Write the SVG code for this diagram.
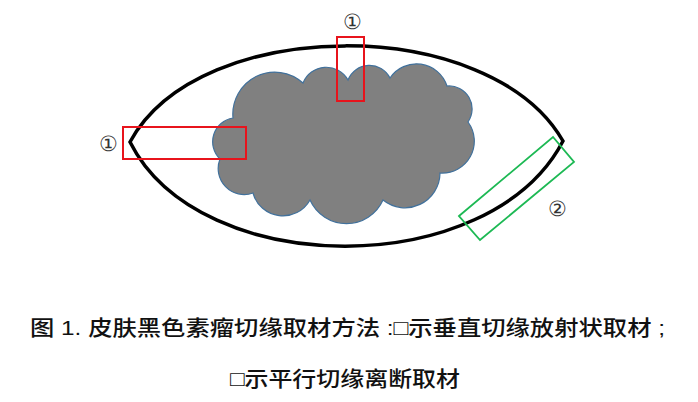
<svg xmlns="http://www.w3.org/2000/svg" width="698" height="402" viewBox="0 0 698 402">
<style>
.lbl{font-family:"Liberation Serif","DejaVu Serif",serif;font-size:21px;fill:#333;text-anchor:middle}
.cap{font-family:"Liberation Sans","Noto Sans CJK SC",sans-serif;font-size:21px;font-weight:500;fill:#111}
.red{fill:none;stroke:#e8141c;stroke-width:2}
</style>
<rect width="698" height="402" fill="#fff"/>
<g id="lens"><path d="M130,142 C200,14 490,14 563,141 C490,281 200,281 130,142 Z" fill="none" stroke="#000" stroke-width="3.5"/></g>
<g id="tumor"><path d="M233,118 A24,24 0 0 0 220,159 A26,26 0 0 0 253,193 A31,31 0 0 0 310,200 A40,40 0 0 0 383,200 A35,35 0 0 0 440,173 A32,32 0 0 0 468,122 A23,23 0 0 0 447,86 A32,32 0 0 0 390,78 A23,23 0 0 0 348,80 A25,25 0 0 0 303,83 A42,42 0 0 0 233,118 Z" fill="#808080" stroke="#41719c" stroke-width="1.2"/></g>
<g id="connectors">
<rect id="cut-top" class="red" x="337" y="37" width="27" height="64"/>
<rect id="cut-left" class="red" x="123" y="127" width="123" height="32"/>
<polygon id="cut-right" points="459,216 553,137 574,162 480,240" fill="none" stroke="#1db954" stroke-width="1.8"/>
</g>
<g id="labels">
<text class="lbl" x="352" y="29">①</text>
<text class="lbl" x="108" y="151">①</text>
<text class="lbl" x="557" y="216">②</text>
</g>
<g id="caption">
<text class="cap" x="30" y="335" textLength="635" lengthAdjust="spacingAndGlyphs">图 1. 皮肤黑色素瘤切缘取材方法 :□示垂直切缘放射状取材 ;</text>
<text class="cap" x="230" y="386" textLength="230" lengthAdjust="spacingAndGlyphs">□示平行切缘离断取材</text>
</g>
</svg>
